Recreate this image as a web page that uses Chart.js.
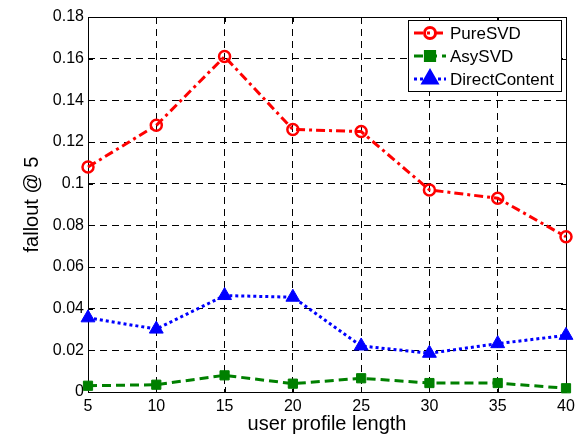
<!DOCTYPE html>
<html>
<head>
<meta charset="utf-8">
<script src="https://cdn.jsdelivr.net/npm/chart.js@4/dist/chart.umd.min.js"></script>
<style>
  html, body { margin: 0; padding: 0; background: #fff; }
  #wrap { width: 580px; height: 437px; }
</style>
</head>
<body>
<div id="wrap"><canvas id="falloutChart" width="580" height="437"></canvas></div>
<script>
// profile lengths on the x axis
const profileLengths = [5, 10, 15, 20, 25, 30, 35, 40];

// fallout @ 5 per method
const pureSVD = [0.108, 0.128, 0.161, 0.126, 0.125, 0.097, 0.093, 0.0745];
const asySVD = [0.003, 0.0035, 0.008, 0.004, 0.0066, 0.0043, 0.0043, 0.0018];
const directContent = [0.0356, 0.0302, 0.0463, 0.0455, 0.0221, 0.0186, 0.0232, 0.0272];

const toPoints = vals => vals.map((v, i) => ({ x: profileLengths[i], y: v }));
const font = 'Arial, "Liberation Sans", sans-serif';

// frame + inward ticks like matlab
const framePlugin = {
    id: 'frame',
    beforeDatasetsDraw(chart) {
        const { ctx, chartArea: a, scales } = chart;
        ctx.save();
        ctx.strokeStyle = '#000';
        ctx.lineWidth = 1;
        ctx.setLineDash([]);
        ctx.strokeRect(Math.round(a.left) + 0.5, Math.round(a.top) + 0.5,
            Math.round(a.right - a.left), Math.round(a.bottom - a.top));
        ctx.beginPath();
        scales.x.ticks.forEach(t => {
            const x = Math.round(scales.x.getPixelForValue(t.value)) + 0.5;
            ctx.moveTo(x, a.bottom); ctx.lineTo(x, a.bottom - 5);
            ctx.moveTo(x, a.top); ctx.lineTo(x, a.top + 5);
        });
        scales.y.ticks.forEach(t => {
            const y = Math.round(scales.y.getPixelForValue(t.value)) + 0.5;
            ctx.moveTo(a.left, y); ctx.lineTo(a.left + 5, y);
            ctx.moveTo(a.right, y); ctx.lineTo(a.right - 5, y);
        });
        ctx.stroke();
        ctx.restore();
    }
};

// legend box with line + marker
const legendPlugin = {
    id: 'boxLegend',
    afterDraw(chart) {
        const { ctx } = chart;
        const x0 = 408, y0 = 20, w = 153, h = 71;
        ctx.save();
        ctx.fillStyle = '#fff';
        ctx.fillRect(x0, y0, w, h);
        ctx.strokeStyle = '#000';
        ctx.lineWidth = 1;
        ctx.setLineDash([]);
        ctx.strokeRect(x0 + 0.5, y0 + 0.5, w, h);
        chart.data.datasets.forEach((ds, i) => {
            const y = y0 + 13 + i * 23;
            ctx.strokeStyle = ds.borderColor;
            ctx.lineWidth = ds.borderWidth;
            ctx.setLineDash(ds.borderDash);
            ctx.beginPath();
            ctx.moveTo(x0 + 6, y);
            ctx.lineTo(x0 + 38, y);
            ctx.stroke();
            ctx.setLineDash([]);
            ctx.fillStyle = ds.pointBackgroundColor;
            ctx.strokeStyle = ds.pointBorderColor;
            Chart.helpers.drawPoint(ctx, {
                pointStyle: ds.pointStyle,
                radius: ds.pointRadius,
                borderWidth: ds.pointBorderWidth
            }, x0 + 22, y);
            ctx.fillStyle = '#000';
            ctx.font = '17px ' + font;
            ctx.textBaseline = 'middle';
            ctx.fillText(ds.label, x0 + 42, y + 1);
        });
        ctx.restore();
    }
};

const ctx = document.getElementById('falloutChart').getContext('2d');
const falloutChart = new Chart(ctx, {
    type: 'line',
    data: {
        datasets: [
            {
                label: 'PureSVD',
                data: toPoints(pureSVD),
                borderColor: '#ff0000',
                borderWidth: 3,
                borderDash: [9, 4, 3, 4],
                pointStyle: 'circle',
                pointRadius: 5.5,
                pointBorderWidth: 2.5,
                pointBackgroundColor: 'rgba(255,255,255,0)',
                pointBorderColor: '#ff0000',
                tension: 0,
                clip: false
            },
            {
                label: 'AsySVD',
                data: toPoints(asySVD),
                borderColor: '#008000',
                borderWidth: 3,
                borderDash: [9, 5],
                pointStyle: 'rect',
                pointRadius: 6.5,
                pointBorderWidth: 1,
                pointBackgroundColor: '#008000',
                pointBorderColor: '#008000',
                tension: 0,
                clip: false
            },
            {
                label: 'DirectContent',
                data: toPoints(directContent),
                borderColor: '#0000ff',
                borderWidth: 3,
                borderDash: [3, 3],
                pointStyle: 'triangle',
                pointRadius: 8,
                pointBorderWidth: 1,
                pointBackgroundColor: '#0000ff',
                pointBorderColor: '#0000ff',
                tension: 0,
                clip: false
            }
        ]
    },
    options: {
        responsive: false,
        animation: false,
        layout: {
            padding: { top: 17, right: 14, left: 0, bottom: 0 }
        },
        plugins: {
            legend: { display: false },
            tooltip: { enabled: false }
        },
        scales: {
            x: {
                type: 'linear',
                min: 5,
                max: 40,
                afterFit: s => { s.height = 45; },
                afterBuildTicks: s => { s.ticks = profileLengths.map(v => ({ value: v })); },
                grid: {
                    color: '#000',
                    lineWidth: 1,
                    drawTicks: false
                },
                border: { display: false, dash: [7, 5] },
                ticks: {
                    color: '#000',
                    padding: 5,
                    font: { family: font, size: 16 }
                },
                title: {
                    display: true,
                    text: 'user profile length',
                    color: '#000',
                    padding: { top: 0, bottom: 1 },
                    font: { family: font, size: 20 }
                }
            },
            y: {
                min: 0,
                max: 0.18,
                afterFit: s => { s.width = 88; },
                grid: {
                    color: '#000',
                    lineWidth: 1,
                    drawTicks: false
                },
                border: { display: false, dash: [7, 5] },
                ticks: {
                    stepSize: 0.02,
                    color: '#000',
                    padding: 4,
                    font: { family: font, size: 16 },
                    callback: v => String(Number(v.toFixed(2)))
                },
                title: {
                    display: true,
                    text: 'fallout @ 5',
                    color: '#000',
                    padding: { top: 20, bottom: 0 },
                    font: { family: font, size: 20 }
                }
            }
        }
    },
    plugins: [framePlugin, legendPlugin]
});
</script>
</body>
</html>
